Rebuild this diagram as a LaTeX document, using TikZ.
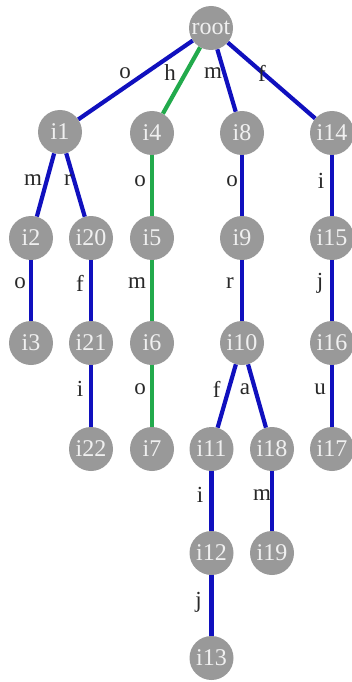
\documentclass[tikz,border=0pt]{standalone}
\usepackage{fontspec}
\setmainfont{Liberation Serif}
\definecolor{nodegray}{RGB}{153,153,153}
\definecolor{nodetext}{RGB}{240,240,240}
\definecolor{edgeblue}{RGB}{16,16,190}
\definecolor{edgegreen}{RGB}{34,170,76}
\definecolor{lbltext}{RGB}{40,40,40}
\begin{document}
\begin{tikzpicture}[x=1pt,y=-1pt,
  tnode/.style={circle,fill=nodegray,minimum size=44pt,inner sep=0pt,text=nodetext,font=\fontsize{24}{24}\selectfont},
  bedge/.style={draw=edgeblue,line width=4.2pt},
  gedge/.style={draw=edgegreen,line width=4.2pt},
  lbl/.style={text=lbltext,font=\fontsize{23}{23}\selectfont,inner sep=0pt}]
\useasboundingbox (0,0) rectangle (351,682);
\node[tnode] (root) at (211,28) {root};
\node[tnode] (i1) at (60,132) {i1};
\node[tnode] (i4) at (152,133) {i4};
\node[tnode] (i8) at (242,133) {i8};
\node[tnode] (i14) at (332,133) {i14};
\node[tnode] (i2) at (31,238) {i2};
\node[tnode] (i20) at (91,238) {i20};
\node[tnode] (i5) at (152,238) {i5};
\node[tnode] (i9) at (242,238) {i9};
\node[tnode] (i15) at (332,238) {i15};
\node[tnode] (i3) at (31,343) {i3};
\node[tnode] (i21) at (91,343) {i21};
\node[tnode] (i6) at (152,343) {i6};
\node[tnode] (i10) at (242,343) {i10};
\node[tnode] (i16) at (332,343) {i16};
\node[tnode] (i22) at (91,449) {i22};
\node[tnode] (i7) at (152,449) {i7};
\node[tnode] (i11) at (211.5,449) {i11};
\node[tnode] (i18) at (272,449) {i18};
\node[tnode] (i17) at (332,449) {i17};
\node[tnode] (i12) at (211.5,553) {i12};
\node[tnode] (i19) at (272,553) {i19};
\node[tnode] (i13) at (211.5,658) {i13};
% edges
\draw[bedge] (root) -- node[lbl,xshift=-10.5pt,yshift=7pt] {o} (i1);
\draw[gedge] (root) -- node[lbl,xshift=-11.5pt,yshift=7.5pt] {h} (i4);
\draw[bedge] (root) -- node[lbl,xshift=-13.5pt,yshift=7.5pt] {m} (i8);
\draw[bedge] (root) -- node[lbl,xshift=-9.5pt,yshift=7.5pt] {f} (i14);
\draw[bedge] (i1) -- node[lbl,xshift=-12.5pt,yshift=5pt] {m} (i2);
\draw[bedge] (i1) -- node[lbl,xshift=-7.5pt,yshift=5pt] {r} (i20);
\draw[gedge] (i4) -- node[lbl,xshift=-12pt,yshift=4.5pt] {o} (i5);
\draw[bedge] (i8) -- node[lbl,xshift=-10pt,yshift=4.5pt] {o} (i9);
\draw[bedge] (i14) -- node[lbl,xshift=-11pt,yshift=4.5pt] {i} (i15);
\draw[bedge] (i2) -- node[lbl,xshift=-11pt,yshift=7.5pt] {o} (i3);
\draw[bedge] (i20) -- node[lbl,xshift=-11pt,yshift=7.5pt] {f} (i21);
\draw[gedge] (i5) -- node[lbl,xshift=-15pt,yshift=7.5pt] {m} (i6);
\draw[bedge] (i9) -- node[lbl,xshift=-12pt,yshift=7.5pt] {r} (i10);
\draw[bedge] (i15) -- node[lbl,xshift=-12pt,yshift=7.5pt] {j} (i16);
\draw[bedge] (i21) -- node[lbl,xshift=-11pt,yshift=7pt] {i} (i22);
\draw[gedge] (i6) -- node[lbl,xshift=-12pt,yshift=7pt] {o} (i7);
\draw[bedge] (i10) -- node[lbl,xshift=-10pt,yshift=7pt] {f} (i11);
\draw[bedge] (i10) -- node[lbl,xshift=-12pt,yshift=7pt] {a} (i18);
\draw[bedge] (i16) -- node[lbl,xshift=-12pt,yshift=7pt] {u} (i17);
\draw[bedge] (i11) -- node[lbl,xshift=-11.5pt,yshift=6pt] {i} (i12);
\draw[bedge] (i18) -- node[lbl,xshift=-10pt,yshift=6pt] {m} (i19);
\draw[bedge] (i12) -- node[lbl,xshift=-13pt,yshift=3.5pt] {j} (i13);
\end{tikzpicture}
\end{document}
